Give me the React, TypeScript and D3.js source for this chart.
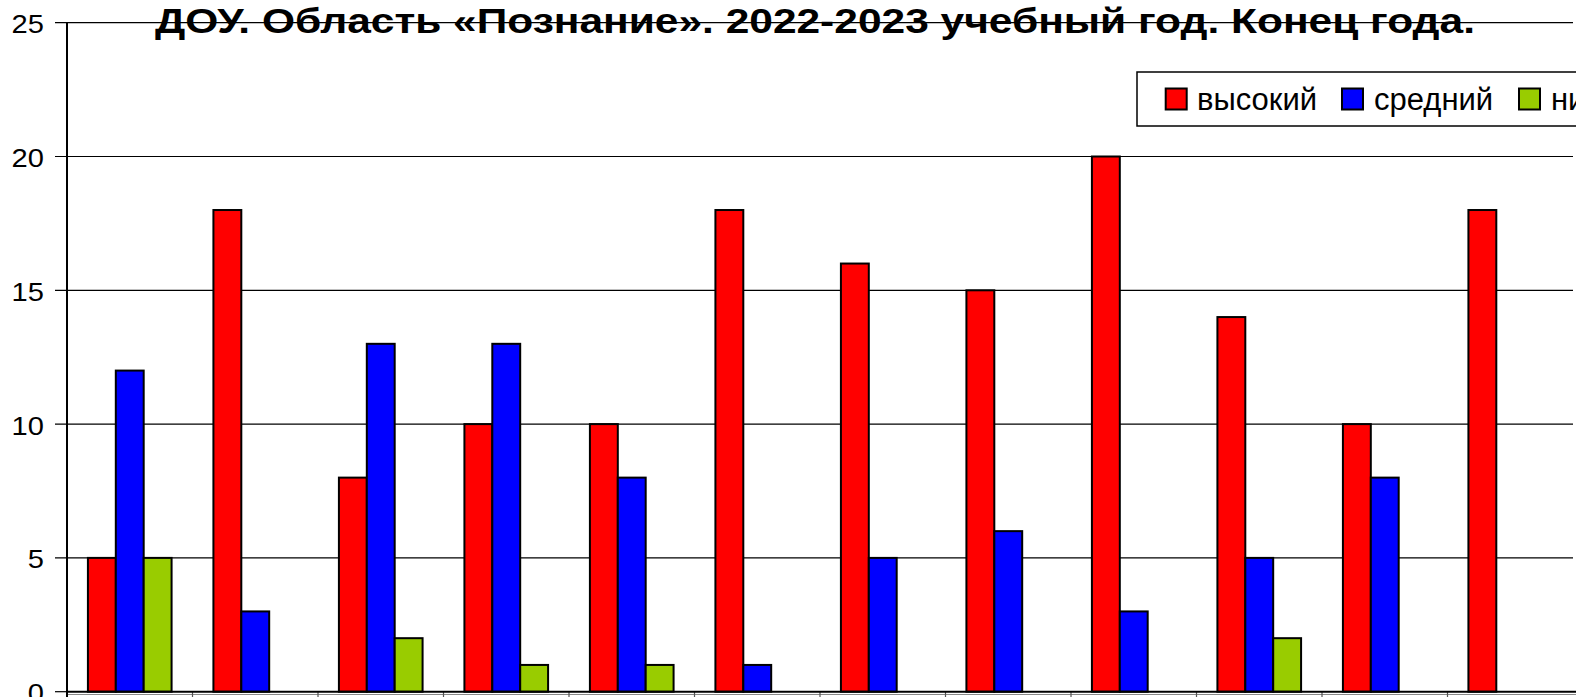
import React from 'react';
import * as d3 from 'd3';

const categories = ['1', '2', '3', '4', '5', '6', '7', '8', '9', '10', '11', '12'];
const seriesNames = ['высокий', 'средний', 'низкий'];
const highValues = [5, 18, 8, 10, 10, 18, 16, 15, 20, 14, 10, 18];
const midValues = [12, 3, 13, 13, 8, 1, 5, 6, 3, 5, 8, 0];
const lowValues = [5, 0, 2, 1, 1, 0, 0, 0, 0, 2, 0, 0];
const seriesColors = ['#FF0000', '#0000FF', '#99CC00'];
const yTicks = [0, 5, 10, 15, 20, 25];
const title = 'ДОУ. Область «Познание». 2022-2023 учебный год. Конец года.';

const W = 1576;
const H = 697;
const FONT = '"Liberation Sans", Arial, sans-serif';

export default function App() {
  const left = 67;
  const right = 1573;
  const y = d3.scaleLinear().domain([0, 25]).range([691.7, 22.7]);
  const x = d3.scaleBand<string>().domain(categories).range([left, right]).paddingInner(0).paddingOuter(0);
  const bw = x.bandwidth();
  const barW = bw / 4.5;
  const xs = d3.scaleBand<string>().domain(seriesNames).range([bw * 0.75 / 4.5, bw * 0.75 / 4.5 + barW * 3]);
  const series = [highValues, midValues, lowValues];

  const legendItems = [
    { sx: 1165.7, tx: 1197 },
    { sx: 1342, tx: 1374 },
    { sx: 1519, tx: 1551 },
  ];

  return (
    <svg width={W} height={H} style={{ position: 'fixed', left: 0, top: 0, background: '#fff' }} fontFamily={FONT}>
      <rect x={0} y={0} width={W} height={H} fill="#fff" />
      {/* gridlines */}
      {yTicks.map((t) => (
        <g key={t}>
          <line x1={55} x2={t === 0 ? left : right} y1={y(t)} y2={y(t)} stroke="#000" strokeWidth={1.2} />
          <g transform={`translate(44,${y(t) + 10.5}) scale(1.12,1)`}>
            <text x={0} y={0} fontSize={26} textAnchor="end" fill="#000">{t}</text>
          </g>
        </g>
      ))}
      {/* category axis box lines below */}
      <line x1={left} x2={W} y1={694.5} y2={694.5} stroke="#888" strokeWidth={1} />
      {categories.map((c) => (
        <line key={c} x1={x(c)!} x2={x(c)!} y1={692} y2={H} stroke="#555" strokeWidth={1.2} />
      ))}
      {/* bars */}
      {categories.map((c, i) => (
        <g key={c} transform={`translate(${x(c)},0)`}>
          {series.map((vals, s) =>
            vals[i] > 0 ? (
              <rect
                key={s}
                x={xs(seriesNames[s])!}
                y={y(vals[i])}
                width={xs.bandwidth()}
                height={y(0) - y(vals[i])}
                fill={seriesColors[s]}
                stroke="#000"
                strokeWidth={2}
              />
            ) : null
          )}
        </g>
      ))}
      {/* axes */}
      <line x1={left} x2={left} y1={y(25)} y2={H} stroke="#000" strokeWidth={2} />
      <line x1={left} x2={W} y1={y(0)} y2={y(0)} stroke="#000" strokeWidth={2} />
      {/* title */}
      <text x={155} y={33} fontSize={35} fontWeight="bold" textLength={1320} lengthAdjust="spacingAndGlyphs" fill="#000">{title}</text>
      {/* legend */}
      <rect x={1137} y={72} width={W} height={54} fill="#fff" stroke="#000" strokeWidth={1.5} />
      {legendItems.map((li, s) => (
        <g key={s}>
          <rect x={li.sx} y={88.5} width={21} height={21} fill={seriesColors[s]} stroke="#000" strokeWidth={2} />
          <text x={li.tx} y={109.5} fontSize={31} fill="#000">{seriesNames[s]}</text>
        </g>
      ))}
    </svg>
  );
}
